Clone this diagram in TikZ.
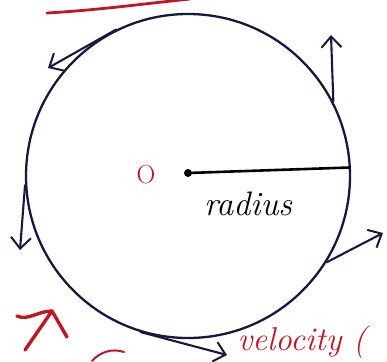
\documentclass[tikz,border=0pt]{standalone}
\usepackage{tikz}
\usetikzlibrary{arrows.meta}
\definecolor{inkblue}{RGB}{22,24,62}
\definecolor{inkred}{RGB}{190,22,34}
\tikzset{
  wheelnode/.style = {circle, draw=inkblue, line width=2.3pt, inner sep=0pt,
                      minimum size=324pt},
  tangent/.style   = {-{Straight Barb[length=11pt, width=20pt, line width=2pt]},
                      line width=2.1pt, inkblue},
  radiusline/.style= {line width=2.6pt, black},
  redmark/.style   = {line width=2.8pt, inkred, line cap=round, line join=round},
  hand/.style      = {font=\fontsize{34}{38}\selectfont\itshape},
}

\begin{document}
\begin{tikzpicture}[x=1pt, y=-1pt]
    \useasboundingbox (0,0) rectangle (387,361);

    % --- the circle ---
    \node[wheelnode] (wheel) at (188,176) {};
    \coordinate (O) at (188,173);

    % --- radius ---
    \fill[black] (O) circle (4pt);
    \draw[radiusline] (O) -- (wheel.3);
    \node[inkred, font=\fontsize{26}{30}\selectfont] (olabel) at (146,175) {O};
    \node[hand, black] (rlabel) at (248,204) {radius};

    % --- velocity arrows along the rim ---
    \coordinate (vtl) at (48,68);
    \coordinate (vtr) at (331,35);
    \coordinate (vl)  at (20,250);
    \coordinate (vb)  at (227,355);
    \coordinate (vbr) at (383,233);
    \draw[tangent] (wheel.116) -- (vtl);
    \draw[tangent] (wheel.27)  -- (vtr);
    \draw[tangent] (wheel.183) -- (vl);
    \draw[tangent] (wheel.253) -- (vb);
    \draw[tangent] (wheel.328) -- (vbr);

    % --- red notes ---
    \draw[redmark] (47,13) .. controls (100,10) and (150,3) .. (190,-1);
    \coordinate (rtip) at (52,311);
    \draw[redmark, line width=3.4pt] (25,350) -- (rtip);
    \draw[redmark, line width=3.4pt] (17,316) .. controls (28,321) and (38,311) .. (rtip) -- (67,337);
    \draw[redmark, line width=2pt] (92,361) .. controls (100,352) and (112,348) .. (124,352);
    \node[inkred, anchor=base west, font=\fontsize{33}{36}\selectfont\itshape]
      (vlabel) at (234,350) {velocity (};
  \end{tikzpicture}
\end{document}
